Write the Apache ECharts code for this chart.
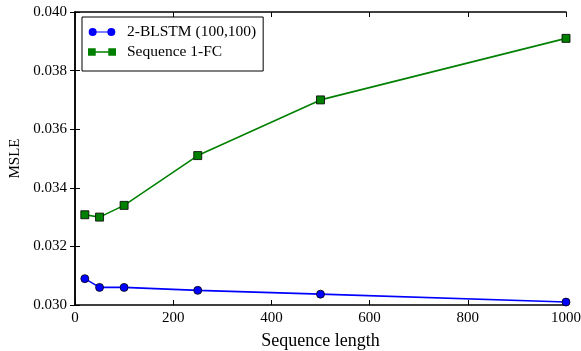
<!DOCTYPE html>
<html>
<head>
<meta charset="utf-8">
<script src="https://cdn.jsdelivr.net/npm/echarts@6/dist/echarts.min.js"></script>
<style>html,body{margin:0;padding:0;background:#fff}#chart{width:581px;height:351px}</style>
</head>
<body>
<div id="chart"></div>
<script>
// 序列长度
const seqLength = [20, 50, 100, 250, 500, 1000]
const blstm = [0.0309, 0.0306, 0.0306, 0.0305, 0.03037, 0.0301]
const seqFC = [0.03308, 0.0330, 0.0334, 0.0351, 0.0370, 0.0391]

const font = 'Liberation Serif'
const myChart = echarts.init(document.getElementById('chart'))

const pairs = (xs, ys) => xs.map((x, i) => [x, ys[i]])
// 图例图标：两端带标记的线段
const circleIcon = 'path://M0,4.5A4.5,4.5 0 1,1 9,4.5A4.5,4.5 0 1,1 0,4.5Z M21,4.5A4.5,4.5 0 1,1 30,4.5A4.5,4.5 0 1,1 21,4.5Z M8,3.8L22,3.8L22,5.2L8,5.2Z'
const rectIcon = 'path://M0.5,0.5L8.5,0.5L8.5,8.5L0.5,8.5Z M21.5,0.5L29.5,0.5L29.5,8.5L21.5,8.5Z M8,3.8L22,3.8L22,5.2L8,5.2Z'

const hiddenAxis = {
    axisLine: { show: true, lineStyle: { color: '#000', width: 1.5 } },
    axisTick: { show: true, inside: true, length: 5, lineStyle: { color: '#000' } },
    axisLabel: { show: false },
    splitLine: { show: false }
}

myChart.setOption({
    animation: false,
    textStyle: { fontFamily: font },
    grid: { left: 75, right: 15, top: 12, bottom: 46, outerBoundsMode: 'none' },
    legend: {
        orient: 'vertical',
        left: 82, top: 17,
        padding: [7, 7, 11, 6],
        itemGap: 4,
        itemWidth: 28,
        itemHeight: 8,
        borderColor: '#000',
        borderWidth: 1,
        itemStyle: { borderWidth: 0 },
        textStyle: { fontFamily: font, fontSize: 15.5, color: '#000', padding: [0, 0, 0, 6] },
        data: [
            { name: '2-BLSTM (100,100)', icon: circleIcon },
            { name: 'Sequence 1-FC', icon: rectIcon }
        ]
    },
    xAxis: [
        {
            type: 'value', min: 0, max: 1000, interval: 200,
            name: 'Sequence length', nameLocation: 'middle', nameGap: 27,
            nameTextStyle: { fontFamily: font, fontSize: 18, color: '#000' },
            axisLine: { lineStyle: { color: '#000', width: 1.5 } },
            axisTick: { inside: true, length: 5, lineStyle: { color: '#000' } },
            axisLabel: { fontFamily: font, fontSize: 15, color: '#000', margin: 6,
                formatter: v => String(v) },
            splitLine: { show: false }
        },
        Object.assign({ type: 'value', min: 0, max: 1000, interval: 200, position: 'top' }, hiddenAxis)
    ],
    yAxis: [
        {
            type: 'value', min: 0.030, max: 0.040, interval: 0.002,
            name: 'MSLE', nameLocation: 'middle', nameGap: 45,
            nameTextStyle: { fontFamily: font, fontSize: 15, color: '#000' },
            axisLine: { show: true, lineStyle: { color: '#000', width: 1.5 } },
            axisTick: { show: true, inside: true, length: 5, lineStyle: { color: '#000' } },
            axisLabel: { fontFamily: font, fontSize: 15, color: '#000', margin: 8,
                formatter: v => v.toFixed(3) },
            splitLine: { show: false }
        },
        Object.assign({ type: 'value', min: 0.030, max: 0.040, interval: 0.002, position: 'right' }, hiddenAxis)
    ],
    series: [
        {
            name: '2-BLSTM (100,100)',
            type: 'line',
            data: pairs(seqLength, blstm),
            symbol: 'circle', symbolSize: 8,
            lineStyle: { color: '#0000ff', width: 1.6 },
            itemStyle: { color: '#0000ff', borderColor: '#000', borderWidth: 0.8 }
        },
        {
            name: 'Sequence 1-FC',
            type: 'line',
            data: pairs(seqLength, seqFC),
            symbol: 'rect', symbolSize: 8,
            lineStyle: { color: '#008000', width: 1.6 },
            itemStyle: { color: '#008000', borderColor: '#000', borderWidth: 0.8 }
        }
    ]
})
</script>
</body>
</html>
